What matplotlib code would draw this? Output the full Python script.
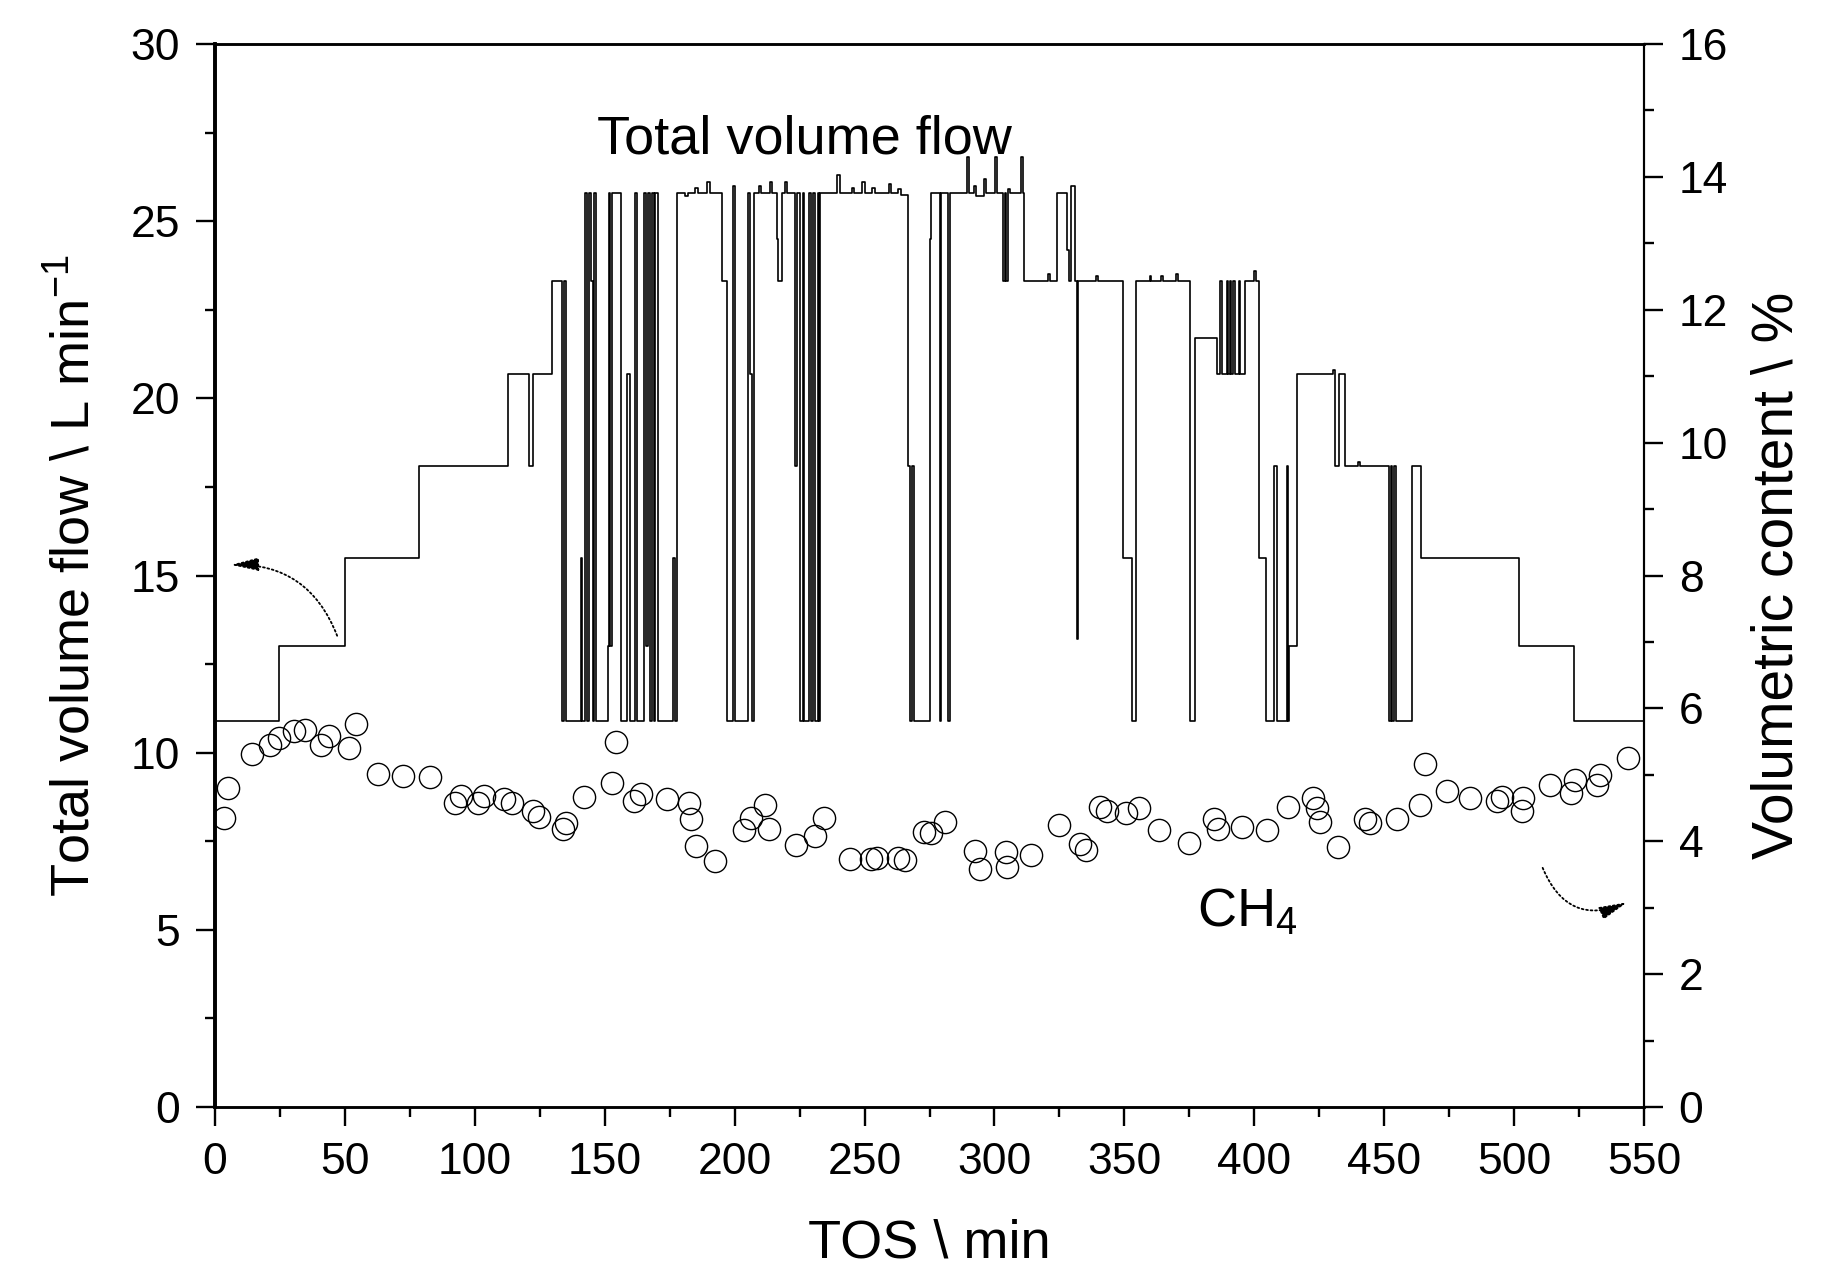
import matplotlib
matplotlib.use("Agg")
import matplotlib.pyplot as plt
from matplotlib.ticker import MultipleLocator

plt.rcParams['font.family'] = ['Liberation Sans', 'DejaVu Sans']
plt.rcParams['mathtext.fontset'] = 'custom'
plt.rcParams['mathtext.rm'] = 'Liberation Sans'
plt.rcParams['mathtext.it'] = 'Liberation Sans:italic'
plt.rcParams['mathtext.default'] = 'regular'

# total volume flow (L/min), step changes
flow_t = [0, 24.8, 50.0, 78.5, 112.7, 121.0, 122.4, 129.8, 133.6, 134.3,
          135.1, 140.8, 141.4, 142.3, 143.1, 143.8, 144.7, 145.3, 146.0, 146.6,
          151.2, 151.6, 152.1, 152.6, 156.3, 158.4, 159.6, 161.7, 162.3, 165.0,
          166.0, 166.6, 167.5, 168.0, 168.8, 169.4, 170.4, 176.4, 177.2, 177.7,
          181.0, 182.2, 184.9, 185.9, 189.5, 190.4, 195.0, 196.9, 199.5, 200.2,
          205.3, 206.0, 206.8, 207.3, 209.5, 210.3, 213.6, 214.5, 216.2, 216.8,
          218.1, 219.4, 220.0, 223.2, 224.0, 225.2, 226.3, 226.8, 228.8, 229.5,
          230.3, 231.0, 232.0, 232.5, 232.9, 239.4, 240.4, 245.0, 246.0, 249.0,
          250.0, 253.0, 254.0, 259.4, 260.3, 263.0, 264.0, 266.9, 267.6, 268.4,
          268.9, 275.0, 275.5, 279.0, 279.6, 282.2, 282.9, 289.3, 290.3, 292.0,
          293.0, 296.0, 296.6, 300.2, 300.9, 303.4, 304.0, 304.6, 305.3, 306.0,
          310.3, 310.9, 311.5, 320.5, 321.2, 324.0, 328.0, 328.8, 329.6, 331.0,
          331.8, 332.3, 339.1, 339.8, 349.4, 353.0, 354.5, 359.7, 360.4, 364.1,
          364.8, 370.0, 370.7, 375.2, 377.1, 385.5, 387.0, 387.6, 389.5, 390.0,
          390.6, 391.2, 391.8, 392.4, 394.0, 394.6, 396.3, 400.0, 400.6, 401.9,
          404.6, 407.6, 408.8, 412.7, 413.1, 413.5, 416.4, 430.3, 431.0, 432.6,
          434.8, 440.0, 440.6, 451.8, 452.6, 453.2, 453.8, 454.4, 460.6, 464.3,
          501.8, 523.2, 550]
flow_v = [10.9, 13.0, 15.5, 18.1, 20.7, 18.1, 20.7, 23.3, 10.9, 23.3,
          10.9, 15.5, 10.9, 25.8, 10.9, 25.8, 23.3, 10.9, 25.8, 10.9,
          13.0, 25.8, 13.0, 25.8, 10.9, 20.7, 10.9, 25.8, 10.9, 25.8,
          13.0, 25.8, 10.9, 25.8, 10.9, 25.8, 10.9, 15.5, 10.9, 25.8,
          25.7, 25.8, 25.95, 25.8, 26.1, 25.8, 23.3, 10.9, 26.0, 10.9,
          25.8, 20.7, 10.9, 25.8, 26.0, 25.8, 26.1, 25.8, 24.5, 23.3,
          25.8, 26.1, 25.8, 18.1, 25.8, 10.9, 25.8, 10.9, 25.8, 10.9,
          25.8, 10.9, 25.8, 10.9, 25.8, 26.3, 25.8, 25.95, 25.8, 26.1,
          25.8, 25.95, 25.8, 26.05, 25.8, 25.9, 25.75, 18.1, 10.9, 18.1,
          10.9, 24.5, 25.8, 10.9, 25.8, 10.9, 25.8, 26.8, 25.8, 26.0,
          25.7, 26.2, 25.8, 26.8, 25.8, 23.3, 25.8, 23.3, 25.9, 25.8,
          26.8, 25.8, 23.3, 23.5, 23.3, 25.8, 24.2, 23.3, 26.0, 23.3,
          13.2, 23.3, 23.45, 23.3, 15.5, 10.9, 23.3, 23.45, 23.3, 23.45,
          23.3, 23.5, 23.3, 10.9, 21.7, 20.7, 23.3, 20.7, 23.3, 20.7,
          23.3, 20.7, 23.3, 20.7, 23.3, 20.7, 23.3, 23.6, 23.3, 15.5,
          10.9, 18.1, 10.9, 18.1, 10.9, 13.0, 20.7, 20.8, 18.1, 20.7,
          18.1, 18.2, 18.1, 10.9, 18.1, 10.9, 18.1, 10.9, 18.1, 15.5,
          13.0, 10.9, 10.9]

# CH4 volumetric content (%)
ch4_t = [3.6, 4.9, 14.3, 21.1, 24.7, 30.5, 34.5, 40.8, 43.9, 51.5,
         54.2, 62.8, 72.2, 82.9, 92.3, 94.6, 101.3, 103.5, 111.2, 114.3,
         122.4, 124.6, 134.0, 134.9, 142.1, 152.9, 154.2, 161.4, 164.1, 173.9,
         182.4, 183.3, 185.1, 192.3, 203.5, 206.2, 211.6, 213.4, 223.7, 230.9,
         234.4, 244.3, 252.4, 254.6, 262.7, 265.4, 273.0, 275.7, 281.1, 292.7,
         294.5, 304.4, 304.8, 314.2, 325.0, 333.1, 335.3, 340.7, 343.4, 350.5,
         355.5, 363.5, 374.7, 384.6, 385.9, 395.4, 404.8, 413.0, 422.6, 424.0,
         425.3, 432.4, 442.6, 444.5, 454.8, 463.8, 465.7, 474.0, 483.0, 493.5,
         495.2, 503.0, 503.5, 513.8, 522.0, 523.4, 532.0, 533.0, 544.0]
ch4_pct = [4.35, 4.80, 5.31, 5.45, 5.56, 5.66, 5.68, 5.45, 5.59, 5.40,
           5.77, 5.01, 4.98, 4.96, 4.57, 4.68, 4.57, 4.68, 4.64, 4.57,
           4.45, 4.36, 4.19, 4.28, 4.66, 4.87, 5.50, 4.61, 4.71, 4.63,
           4.57, 4.33, 3.93, 3.70, 4.17, 4.35, 4.54, 4.19, 3.94, 4.08,
           4.35, 3.73, 3.73, 3.75, 3.75, 3.72, 4.14, 4.12, 4.29, 3.86,
           3.58, 3.84, 3.61, 3.79, 4.24, 3.96, 3.87, 4.52, 4.45, 4.43,
           4.50, 4.17, 3.98, 4.33, 4.19, 4.21, 4.17, 4.52, 4.65, 4.50,
           4.29, 3.92, 4.34, 4.28, 4.34, 4.55, 5.17, 4.75, 4.65, 4.60,
           4.67, 4.45, 4.65, 4.85, 4.72, 4.92, 4.85, 5.00, 5.25]

fig = plt.figure(figsize=(18.24, 12.73), dpi=100)
ax = fig.add_axes([0.1179, 0.1304, 0.7834, 0.835])
ax2 = ax.twinx()

ax.plot(flow_t, flow_v, color='black', lw=1.2, drawstyle='steps-post')
ax2.plot(ch4_t, ch4_pct, 'o', mfc='none', mec='black', ms=16, mew=1.0)

ax.set_xlim(0, 550)
ax.set_ylim(0, 30)
ax2.set_ylim(0, 16)

ax.xaxis.set_major_locator(MultipleLocator(50))
ax.xaxis.set_minor_locator(MultipleLocator(25))
ax.yaxis.set_major_locator(MultipleLocator(5))
ax.yaxis.set_minor_locator(MultipleLocator(2.5))
ax2.yaxis.set_major_locator(MultipleLocator(2))
ax2.yaxis.set_minor_locator(MultipleLocator(1))

for a in (ax, ax2):
    a.tick_params(which='major', direction='out', length=14, width=1.7,
                  labelsize=32, pad=11)
    a.tick_params(which='minor', direction='out', length=7, width=1.7)
    a.spines['left'].set_linewidth(2.6)
    a.spines['bottom'].set_linewidth(1.8)
    a.spines['top'].set_linewidth(1.8)
    a.spines['right'].set_linewidth(1.5)

ax.set_xlabel('TOS \\ min', fontsize=39, labelpad=26)
ax.set_ylabel('Total volume flow \\ L min$^{-1}$', fontsize=39, labelpad=22)
ax2.set_ylabel('Volumetric content \\ %', fontsize=41, labelpad=16)

ax.text(227, 27.3, 'Total volume flow', fontsize=39, ha='center', va='center')
ax.text(378, 5.5, 'CH$_4$', fontsize=39, ha='left', va='center')

arrow_kw = dict(arrowstyle='-|>,head_length=1.7,head_width=0.4',
                linestyle=(0, (1, 1.5)), lw=1.3, color='black',
                shrinkA=0, shrinkB=0)
ax.annotate('', xy=(6, 15.3), xytext=(47, 13.3),
            arrowprops=dict(connectionstyle='arc3,rad=0.35', **arrow_kw))
ax2.annotate('', xy=(543.5, 3.08), xytext=(511, 3.6),
             arrowprops=dict(connectionstyle='arc3,rad=0.5', **arrow_kw))

fig.savefig('out.png', dpi=100)
